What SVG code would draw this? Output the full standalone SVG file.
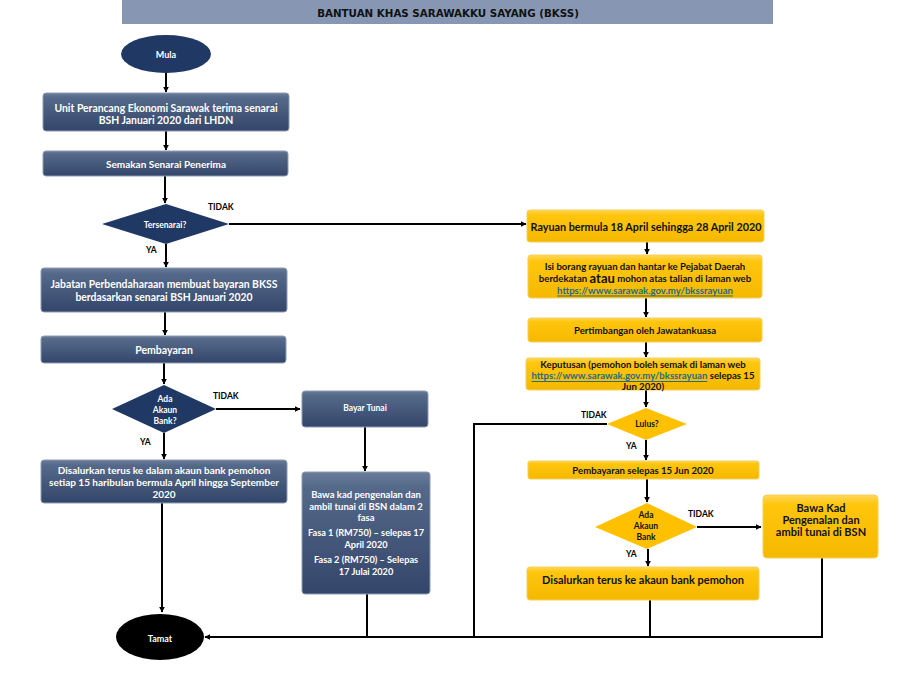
<svg xmlns="http://www.w3.org/2000/svg" width="900" height="675" viewBox="0 0 900 675">
<defs>
<linearGradient id="gDark" x1="0" y1="0" x2="0" y2="1">
<stop offset="0" stop-color="#6a7d9a"/>
<stop offset="0.12" stop-color="#55698a"/>
<stop offset="1" stop-color="#33466a"/>
</linearGradient>
<linearGradient id="gYel" x1="0" y1="0" x2="0" y2="1">
<stop offset="0" stop-color="#ffd75a"/>
<stop offset="0.15" stop-color="#ffc60d"/>
<stop offset="1" stop-color="#f5b800"/>
</linearGradient>
<marker id="ah" viewBox="0 0 10 10" refX="9" refY="5" markerWidth="6" markerHeight="6" orient="auto" markerUnits="userSpaceOnUse">
<path d="M0,0 L10,5 L0,10 z" fill="#000"/>
</marker>
</defs>
<style>
.dark{fill:url(#gDark);stroke:#8d9cb4;stroke-width:1}
.yel{fill:url(#gYel);stroke:#f3cf5a;stroke-width:1}
.nav{fill:#1f3864}
.ydia{fill:#ffc000}
.t{font-family:Lato,"Liberation Sans",sans-serif;font-weight:bold;text-anchor:middle;dominant-baseline:central}
.w{fill:#fff}
.k{fill:#111}
.lbl{font-family:Lato,"Liberation Sans",sans-serif;font-weight:bold;font-size:8.5px;fill:#000;dominant-baseline:central}
.c{fill:none;stroke:#000;stroke-width:2}
.link{fill:#1f6b86;text-decoration:underline}
</style>
<rect id="title" x="122" y="0" width="651" height="24" fill="#8797b3"/>
<text x="448" y="13" font-family="DejaVu Sans,sans-serif" font-weight="bold" font-size="10.3" text-anchor="middle" dominant-baseline="central" fill="#111">BANTUAN KHAS SARAWAKKU SAYANG (BKSS)</text>

<g id="connectors">
<path class="c" d="M166,72 V92" marker-end="url(#ah)"/>
<path class="c" d="M166,131 V150" marker-end="url(#ah)"/>
<path class="c" d="M165,176 V203" marker-end="url(#ah)"/>
<path class="c" d="M229,224 H526" marker-end="url(#ah)"/>
<path class="c" d="M166,244 V267" marker-end="url(#ah)"/>
<path class="c" d="M165,312 V335" marker-end="url(#ah)"/>
<path class="c" d="M164,363 V384" marker-end="url(#ah)"/>
<path class="c" d="M216,409 H300" marker-end="url(#ah)"/>
<path class="c" d="M164,433 V459" marker-end="url(#ah)"/>
<path class="c" d="M365,427 V471" marker-end="url(#ah)"/>
<path class="c" d="M162,503 V612" marker-end="url(#ah)"/>
<path class="c" d="M367,594 V637"/>
<path class="c" d="M822,558 V637 H205" marker-end="url(#ah)"/>
<path class="c" d="M607,424 H474 V637"/>
<path class="c" d="M650,600 V637"/>
<path class="c" d="M647,242 V254" marker-end="url(#ah)"/>
<path class="c" d="M646,298 V317" marker-end="url(#ah)"/>
<path class="c" d="M646,342 V357" marker-end="url(#ah)"/>
<path class="c" d="M646,390 V407" marker-end="url(#ah)"/>
<path class="c" d="M646,440 V460" marker-end="url(#ah)"/>
<path class="c" d="M647,479 V502" marker-end="url(#ah)"/>
<path class="c" d="M697,527 H761" marker-end="url(#ah)"/>
<path class="c" d="M648,549 V566" marker-end="url(#ah)"/>
</g>

<g id="labels">
<text class="lbl" x="208" y="207">TIDAK</text>
<text class="lbl" x="146" y="250">YA</text>
<text class="lbl" x="213" y="396">TIDAK</text>
<text class="lbl" x="140" y="442">YA</text>
<text class="lbl" x="581" y="415">TIDAK</text>
<text class="lbl" x="626" y="446">YA</text>
<text class="lbl" x="688" y="514">TIDAK</text>
<text class="lbl" x="626" y="554">YA</text>
</g>

<g id="mula">
<ellipse cx="166" cy="54" rx="45" ry="19" class="nav"/>
<text class="t w" x="166" y="54" font-size="9">Mula</text>
</g>
<g id="unit">
<rect x="43" y="93" width="246" height="38" rx="3" class="dark"/>
<text class="t w" x="166" y="108" font-size="10.4">Unit Perancang Ekonomi Sarawak terima senarai</text>
<text class="t w" x="166" y="120" font-size="10.4">BSH Januari 2020 dari LHDN</text>
</g>
<g id="semakan">
<rect x="43" y="151" width="245" height="25" rx="3" class="dark"/>
<text class="t w" x="166" y="164" font-size="10">Semakan Senarai Penerima</text>
</g>
<g id="tersenarai">
<polygon points="102,224 166,204 229,224 166,244" class="nav"/>
<text class="t w" x="165" y="225" font-size="8.5">Tersenarai?</text>
</g>
<g id="jabatan">
<rect x="41" y="268" width="246" height="44" rx="3" class="dark"/>
<text class="t w" x="164" y="284" font-size="10.4">Jabatan Perbendaharaan membuat bayaran BKSS</text>
<text class="t w" x="164" y="297" font-size="10.4">berdasarkan senarai BSH Januari 2020</text>
</g>
<g id="pembayaran">
<rect x="41" y="336" width="245" height="27" rx="3" class="dark"/>
<text class="t w" x="164" y="350" font-size="10.5">Pembayaran</text>
</g>
<g id="ada1">
<polygon points="112,409 164,385 216,409 164,433" class="nav"/>
<text class="t w" x="165" y="399" font-size="8.5">Ada</text>
<text class="t w" x="165" y="410" font-size="8.5">Akaun</text>
<text class="t w" x="165" y="421" font-size="8.5">Bank?</text>
</g>
<g id="bayartunai">
<rect x="302" y="391" width="126" height="36" rx="3" class="dark"/>
<text class="t w" x="365" y="408" font-size="8.5">Bayar Tunai</text>
</g>
<g id="disalurkan1">
<rect x="41" y="460" width="246" height="43" rx="3" class="dark"/>
<text class="t w" x="164" y="470" font-size="10">Disalurkan terus ke dalam akaun bank pemohon</text>
<text class="t w" x="164" y="482" font-size="10">setiap 15 haribulan bermula April hingga September</text>
<text class="t w" x="164" y="494" font-size="10">2020</text>
</g>
<g id="bawakad1">
<rect x="302" y="472" width="128" height="122" rx="3" class="dark"/>
<text class="t w" x="366" y="494" font-size="9.5">Bawa kad pengenalan dan</text>
<text class="t w" x="366" y="506" font-size="9.5">ambil tunai di BSN dalam 2</text>
<text class="t w" x="366" y="517" font-size="9.5">fasa</text>
<text class="t w" x="366" y="532" font-size="9.2" font-weight="normal">Fasa 1 (RM750) – selepas 17</text>
<text class="t w" x="366" y="544" font-size="9.2" font-weight="normal">April  2020</text>
<text class="t w" x="366" y="559" font-size="9.2" font-weight="normal">Fasa 2 (RM750) – Selepas</text>
<text class="t w" x="366" y="571" font-size="9.2" font-weight="normal">17 Julai 2020</text>
</g>
<g id="tamat">
<ellipse cx="160" cy="637" rx="44" ry="23" fill="#000"/>
<text class="t w" x="160" y="638" font-size="9">Tamat</text>
</g>

<g id="rayuan">
<rect x="527" y="210" width="237" height="32" rx="3" class="yel"/>
<text class="t k" x="646" y="226" font-size="10.8">Rayuan bermula 18 April sehingga 28 April 2020</text>
</g>
<g id="isiborang">
<rect x="528" y="255" width="234" height="43" rx="3" class="yel"/>
<text class="t k" x="645" y="266" font-size="9.6">Isi borang rayuan dan hantar ke Pejabat Daerah</text>
<text class="t k" x="645" y="278" font-size="9.6">berdekatan <tspan font-size="13">atau</tspan> mohon atas talian di laman web</text>
<text class="t link" x="645" y="290" font-size="9.6">https://www.sarawak.gov.my/bkssrayuan</text>
</g>
<g id="pertimbangan">
<rect x="528" y="318" width="234" height="24" rx="3" class="yel"/>
<text class="t k" x="645" y="330" font-size="9.6">Pertimbangan oleh Jawatankuasa</text>
</g>
<g id="keputusan">
<rect x="526" y="358" width="234" height="32" rx="3" class="yel"/>
<text class="t k" x="643" y="364" font-size="9.6">Keputusan (pemohon boleh semak di laman web</text>
<text class="t k" x="643" y="375" font-size="9.6"><tspan class="link">https://www.sarawak.gov.my/bkssrayuan</tspan> selepas 15</text>
<text class="t k" x="643" y="386" font-size="9.6">Jun 2020)</text>
</g>
<g id="lulus">
<polygon points="607,424 646,408 687,424 646,440" class="ydia"/>
<text class="t k" x="647" y="424" font-size="8.5">Lulus?</text>
</g>
<g id="pembayaran2">
<rect x="528" y="461" width="231" height="18" rx="2" class="yel"/>
<text class="t k" x="643" y="470" font-size="9.6">Pembayaran selepas 15 Jun 2020</text>
</g>
<g id="ada2">
<polygon points="595,527 647,503 697,527 647,549" class="ydia"/>
<text class="t k" x="646" y="515" font-size="8.5">Ada</text>
<text class="t k" x="646" y="526" font-size="8.5">Akaun</text>
<text class="t k" x="646" y="537" font-size="8.5">Bank</text>
</g>
<g id="bawakad2">
<rect x="763" y="495" width="115" height="63" rx="4" class="yel"/>
<text class="t k" x="821" y="507" font-size="11">Bawa Kad</text>
<text class="t k" x="821" y="519" font-size="11">Pengenalan dan</text>
<text class="t k" x="821" y="531" font-size="11">ambil tunai di BSN</text>
</g>
<g id="disalurkan2">
<rect x="527" y="567" width="232" height="33" rx="3" class="yel"/>
<text class="t k" x="643" y="579" font-size="11">Disalurkan terus ke akaun bank pemohon</text>
</g>
</svg>
